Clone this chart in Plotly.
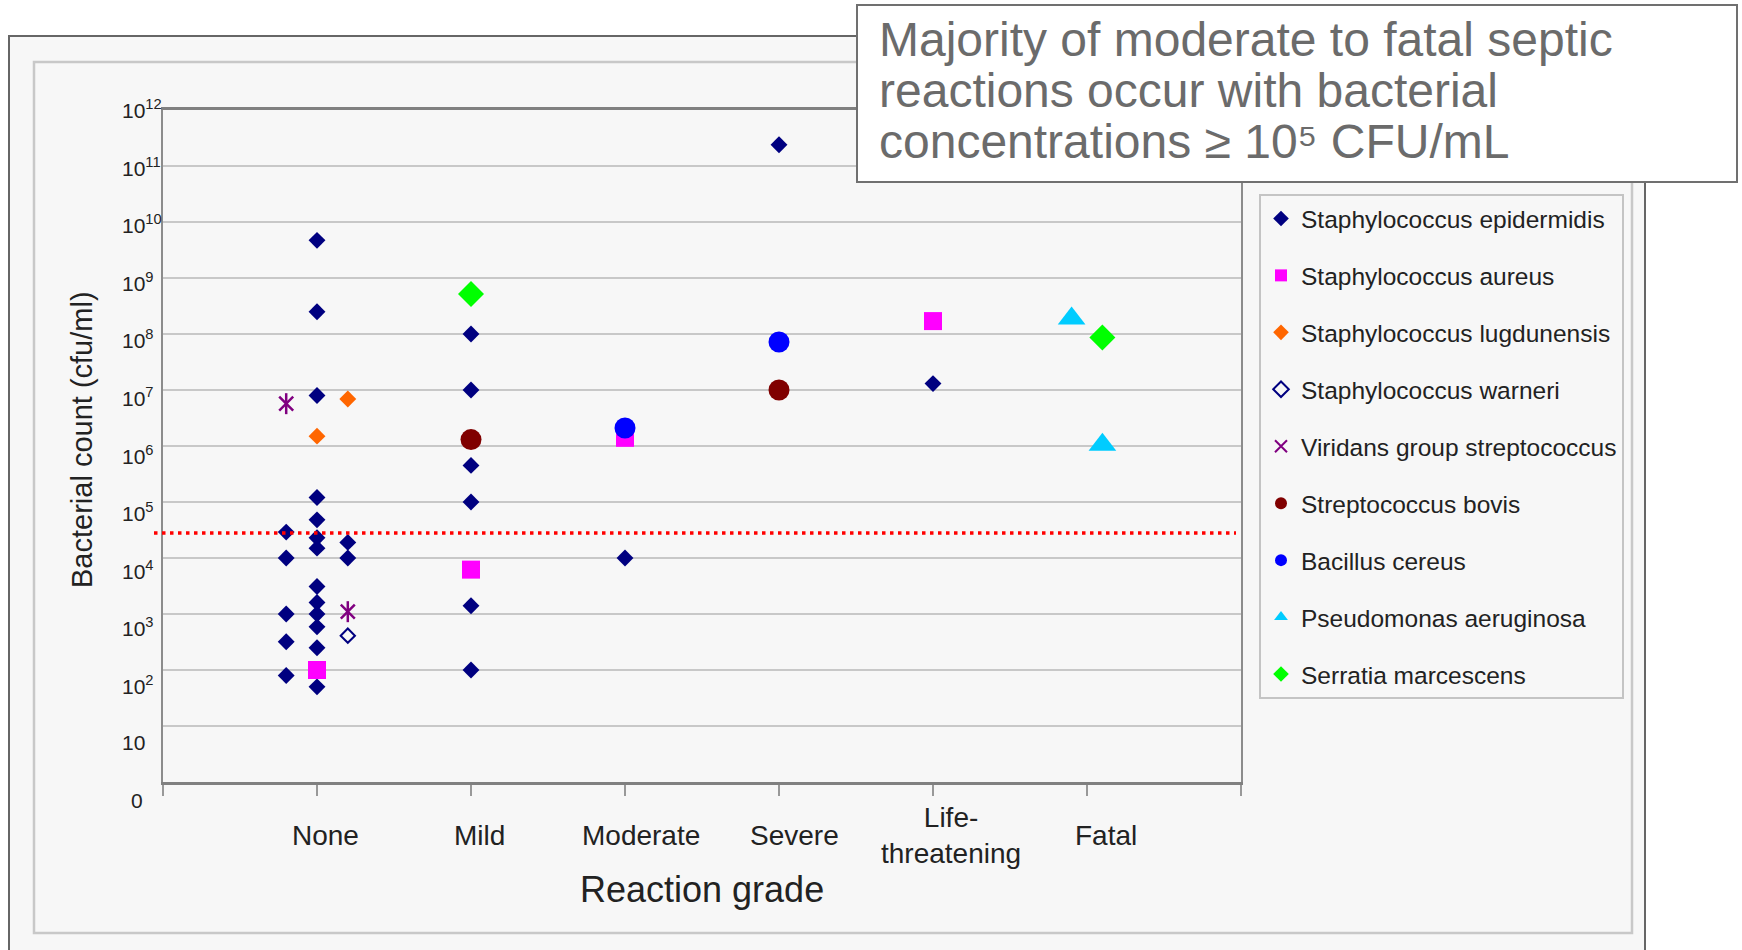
import plotly.graph_objects as go

# ---------------- figure geometry (pixels) ----------------
W, H = 1742, 950
L_M, R_M, T_M, B_M = 163, 501, 110, 168
PW = W - L_M - R_M
PH = H - T_M - B_M


def px(xp):
    return (xp - L_M) / PW


def py(yp):
    return (H - B_M - yp) / PH


# ---------------- data ----------------
grades = ["None", "Mild", "Moderate", "Severe", "Life-threatening", "Fatal"]
grade_labels = ["None", "Mild", "Moderate", "Severe", "Life-<br>threatening", "Fatal"]
grade_pos = {"None": 1, "Mild": 2, "Moderate": 3, "Severe": 4, "Life-threatening": 5, "Fatal": 6}
column_spread = {"None": 0.2, "Mild": 0.0, "Moderate": 0.0, "Severe": 0.0,
                 "Life-threatening": 0.0, "Fatal": 0.1}

y_tick_exp = [0, 1, 2, 3, 4, 5, 6, 7, 8, 9, 10, 11, 12]
y_tick_text = ["0", "10", "10<sup>2</sup>", "10<sup>3</sup>", "10<sup>4</sup>", "10<sup>5</sup>",
               "10<sup>6</sup>", "10<sup>7</sup>", "10<sup>8</sup>", "10<sup>9</sup>",
               "10<sup>10</sup>", "10<sup>11</sup>", "10<sup>12</sup>"]

threshold_cfu = 2.8e4

# Staphylococcus epidermidis
epi_grade = ["None", "None", "None", "None", "None", "None", "None", "None", "None", "None",
             "None", "None", "None",
             "None", "None", "None", "None", "None",
             "None", "None",
             "Mild", "Mild", "Mild", "Mild", "Mild", "Mild",
             "Moderate", "Severe", "Life-threatening"]
epi_col = [0, 0, 0, 0, 0, 0, 0, 0, 0, 0, 0, 0, 0,
           -1, -1, -1, -1, -1,
           1, 1,
           0, 0, 0, 0, 0, 0,
           0, 0, 0]
epi_cfu = [4.7e9, 2.5e8, 8.0e6, 1.2e5, 4.8e4, 2.3e4, 1.5e4, 3.1e3, 1.6e3, 1.0e3, 5.9e2, 2.5e2, 50,
           2.9e4, 1.0e4, 1.0e3, 3.2e2, 80,
           1.9e4, 1.0e4,
           1.0e8, 1.0e7, 4.5e5, 1.0e5, 1.4e3, 1.0e2,
           1.0e4, 2.4e11, 1.3e7]

# Staphylococcus aureus
aur_grade = ["None", "Mild", "Moderate", "Life-threatening"]
aur_col = [0, 0, 0, 0]
aur_cfu = [1.0e2, 6.2e3, 1.4e6, 1.7e8]

# Staphylococcus lugdunensis
lug_grade = ["None", "None"]
lug_col = [0, 1]
lug_cfu = [1.5e6, 6.9e6]

# Staphylococcus warneri
war_grade = ["None"]
war_col = [1]
war_cfu = [4.1e2]

# Viridans group streptococcus
vir_grade = ["None", "None"]
vir_col = [-1, 1]
vir_cfu = [5.7e6, 1.1e3]

# Streptococcus bovis
bov_grade = ["Mild", "Severe"]
bov_col = [0, 0]
bov_cfu = [1.3e6, 1.0e7]

# Bacillus cereus
cer_grade = ["Moderate", "Severe"]
cer_col = [0, 0]
cer_cfu = [2.1e6, 7.2e7]

# Pseudomonas aeruginosa
pse_grade = ["Fatal", "Fatal"]
pse_col = [-1, 1]
pse_cfu = [1.9e8, 1.05e6]

# Serratia marcescens
ser_grade = ["Mild", "Fatal"]
ser_col = [0, 1]
ser_cfu = [5.2e8, 8.7e7]


def xpos(gr, col):
    return [grade_pos[g] + c * column_spread[g] for g, c in zip(gr, col)]


series = [
    ("Staphylococcus epidermidis", epi_grade, epi_col, epi_cfu,
     dict(symbol="diamond", size=13, color="#000080", line=dict(width=0))),
    ("Staphylococcus aureus", aur_grade, aur_col, aur_cfu,
     dict(symbol="square", size=18, color="#FF00FF", line=dict(width=0))),
    ("Staphylococcus lugdunensis", lug_grade, lug_col, lug_cfu,
     dict(symbol="diamond", size=13, color="#FF6600", line=dict(width=0))),
    ("Staphylococcus warneri", war_grade, war_col, war_cfu,
     dict(symbol="diamond-open", size=11, color="#000080", line=dict(width=2, color="#000080"))),
    ("Viridans group streptococcus", vir_grade, vir_col, vir_cfu,
     dict(symbol="x-thin-open", size=14, color="#800080", line=dict(width=2.5, color="#800080"))),
    ("Streptococcus bovis", bov_grade, bov_col, bov_cfu,
     dict(symbol="circle", size=21, color="#800000", line=dict(width=0))),
    ("Bacillus cereus", cer_grade, cer_col, cer_cfu,
     dict(symbol="circle", size=21, color="#0000FF", line=dict(width=0))),
    ("Pseudomonas aeruginosa", pse_grade, pse_col, pse_cfu,
     dict(symbol="triangle-up", size=24, color="#00CCFF", line=dict(width=0))),
    ("Serratia marcescens", ser_grade, ser_col, ser_cfu,
     dict(symbol="diamond", size=20, color="#00FF00", line=dict(width=0))),
]

fig = go.Figure()

for name, gr, col, cfu, mk in series:
    fig.add_trace(go.Scatter(
        x=xpos(gr, col), y=cfu, mode="markers", name=name,
        legendgroup=name, marker=mk))
    if name == "Viridans group streptococcus":
        fig.add_trace(go.Scatter(
            x=xpos(gr, col), y=cfu, mode="markers", name=name,
            legendgroup=name, showlegend=False,
            marker=dict(symbol="line-ns-open", size=15, color="#800080",
                        line=dict(width=2.5, color="#800080"))))

shapes = [
    dict(type="rect", xref="paper", yref="paper", x0=px(9), x1=px(1645), y0=py(36), y1=py(1000),
         line=dict(color="#666666", width=2), fillcolor="#f7f7f7", layer="below"),
    dict(type="rect", xref="paper", yref="paper", x0=px(34), x1=px(1632), y0=py(62), y1=py(933),
         line=dict(color="#c8c8c8", width=2.5), fillcolor="rgba(0,0,0,0)", layer="below"),
    # threshold dotted line (data value on the log y axis)
    dict(type="line", xref="paper", yref="y", x0=px(154), x1=px(1236),
         y0=threshold_cfu, y1=threshold_cfu,
         line=dict(color="#FF0000", width=3.5, dash="3.5px,4.5px"), layer="above"),
    dict(type="rect", xref="paper", yref="paper", x0=px(857), x1=px(1737), y0=py(5), y1=py(182),
         line=dict(color="#707070", width=2), fillcolor="white", layer="above"),
]

annotations = []
# title box text
title_lines = ["Majority of moderate to fatal septic",
               "reactions occur with bacterial",
               "concentrations \u2265 10\u2075 CFU/mL"]
for line, yc in zip(title_lines, [40, 90.7, 141.7]):
    annotations.append(dict(text=line, xref="paper", yref="paper", x=px(877), y=py(yc),
                            xanchor="left", yanchor="middle", showarrow=False,
                            font=dict(size=48, color="#6b6b6b")))

# x category labels
label_xshift = [8, 8, 16, 15, 18, 19]
for i, lab in enumerate(grade_labels):
    annotations.append(dict(text=lab, xref="x", yref="paper", x=grade_pos[grades[i]], y=py(835),
                            xshift=label_xshift[i], xanchor="center", yanchor="middle",
                            showarrow=False, font=dict(size=28, color="#222222")))

# y tick labels
for k, lab in zip(y_tick_exp, y_tick_text):
    annotations.append(dict(text=lab, xref="paper", yref="y", x=px(129 if lab == "0" else 119.5), y=k,
                            yshift=-18 + 1.58 * k, xanchor="left", yanchor="middle",
                            showarrow=False, font=dict(size=21, color="#222222")))

# axis titles
annotations.append(dict(text="Reaction grade", xref="paper", yref="paper", x=px(702), y=py(889),
                        xanchor="center", yanchor="middle", showarrow=False,
                        font=dict(size=36, color="#222222")))
annotations.append(dict(text="Bacterial count (cfu/ml)", xref="paper", yref="paper", x=px(82), y=py(440),
                        xanchor="center", yanchor="middle", textangle=-90, showarrow=False,
                        font=dict(size=29, color="#222222")))

fig.update_layout(
    width=W, height=H, autosize=False,
    margin=dict(l=L_M, r=R_M, t=T_M, b=B_M, pad=0),
    paper_bgcolor="white", plot_bgcolor="#f7f7f7",
    font=dict(family="Liberation Sans, Arial, sans-serif", color="#222222"),
    showlegend=True,
    legend=dict(x=px(1259), y=py(194), xanchor="left", yanchor="top",
                bgcolor="#f7f7f7", bordercolor="#c4c4c4", borderwidth=2,
                font=dict(size=24.5, color="#222222"), itemsizing="constant",
                traceorder="grouped", tracegroupgap=22.1),
    xaxis=dict(range=[0, 7], tickvals=[0, 1, 2, 3, 4, 5, 6, 7], ticks="outside", ticklen=11,
               tickwidth=2, tickcolor="#999999", showticklabels=False, showgrid=False,
               zeroline=False, showline=True, linecolor="#808080", linewidth=3, mirror=True),
    yaxis=dict(type="log", range=[0, 12], tickvals=[10 ** k for k in y_tick_exp],
               showticklabels=False, ticks="", showgrid=True, gridcolor="#c8c8c8", gridwidth=2,
               showline=True, linecolor="#8c8c8c", linewidth=2, mirror=True, zeroline=False),
    shapes=shapes,
    annotations=annotations,
)

fig.write_html("out.html")
